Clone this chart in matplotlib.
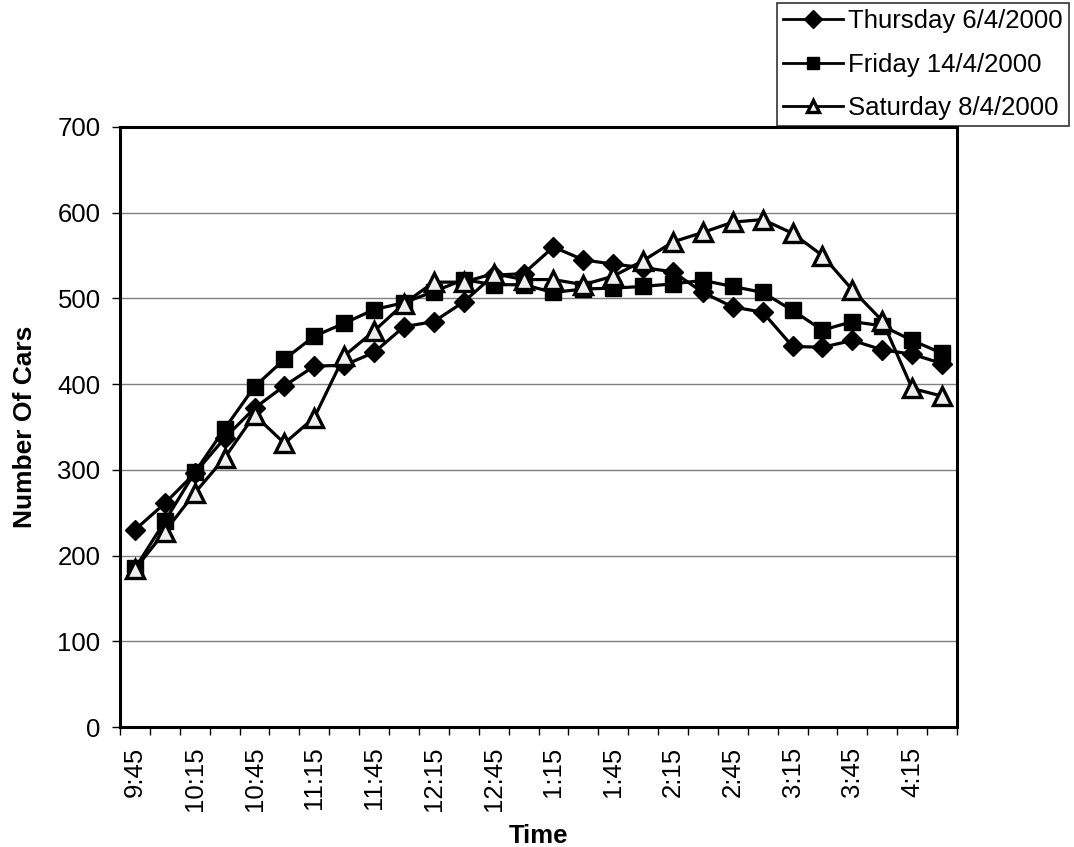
import matplotlib
matplotlib.use("Agg")
import matplotlib.pyplot as plt
import numpy as np

# 15-minute observation slots, 9:45 through 4:30
times = ["9:45", "10:00", "10:15", "10:30", "10:45", "11:00", "11:15", "11:30",
         "11:45", "12:00", "12:15", "12:30", "12:45", "1:00", "1:15", "1:30",
         "1:45", "2:00", "2:15", "2:30", "2:45", "3:00", "3:15", "3:30",
         "3:45", "4:00", "4:15", "4:30"]

thursday = [230, 261, 296, 337, 372, 398, 421, 422, 437, 467, 473, 496, 527, 529,
            560, 545, 540, 536, 531, 507, 490, 484, 444, 443, 451, 440, 435, 424]
friday = [185, 240, 297, 348, 397, 429, 456, 471, 487, 495, 508, 522, 516, 516,
          507, 511, 512, 514, 517, 521, 514, 507, 486, 463, 473, 468, 451, 436]
saturday = [184, 228, 273, 314, 364, 331, 361, 433, 462, 494, 519, 519, 529, 522,
            522, 516, 526, 544, 566, 577, 589, 592, 576, 550, 510, 474, 395, 386]

series_labels = ["Thursday 6/4/2000", "Friday 14/4/2000", "Saturday 8/4/2000"]
y_ticks = [0, 100, 200, 300, 400, 500, 600, 700]

plt.rcParams["font.family"] = ["Liberation Sans", "DejaVu Sans"]

fig = plt.figure(figsize=(10.74, 8.47), dpi=100)
ax = fig.add_axes([120 / 1074, 1 - 727 / 847, 837 / 1074, 600 / 847])

x = np.arange(len(times))
lw = 2.3
ax.plot(x, thursday, color="black", lw=lw, marker="D", markersize=10,
        markerfacecolor="black", markeredgecolor="black", label=series_labels[0], zorder=3)
ax.plot(x, friday, color="black", lw=lw, marker="s", markersize=12,
        markerfacecolor="black", markeredgecolor="black", label=series_labels[1], zorder=3)
ax.plot(x, saturday, color="black", lw=lw, marker="^", markersize=13,
        markerfacecolor="#eeeeee", markeredgecolor="black", markeredgewidth=2.4,
        label=series_labels[2], zorder=4)

ax.set_xlim(-0.5, len(times) - 0.5)
ax.set_ylim(0, 700)
ax.set_yticks(y_ticks)
ax.set_yticklabels([str(v) for v in y_ticks], fontsize=18.5)
ax.yaxis.grid(True, color="#7f7f7f", lw=1.0)
ax.set_axisbelow(True)

# category labels on every other slot, tick marks at category boundaries
ax.set_xticks(x[::2])
ax.set_xticklabels(times[::2], rotation=90, fontsize=18.5)
ax.tick_params(axis="x", which="major", length=0, pad=14)
ax.set_xticks(np.arange(-0.5, len(times), 1.0), minor=True)
ax.tick_params(axis="x", which="minor", length=6, width=1.0, direction="out")
ax.tick_params(axis="y", length=6, width=1.0, direction="out", pad=8)

for s in ax.spines.values():
    s.set_linewidth(2.2)
    s.set_color("black")

ax.set_xlabel("Time", fontsize=18.5, fontweight="bold", labelpad=9)
ax.set_ylabel("Number Of Cars", fontsize=19, fontweight="bold", labelpad=15)

leg = fig.legend(loc="upper left", bbox_to_anchor=(777 / 1074, 1 - 3 / 847),
                 fontsize=18.5, frameon=True, fancybox=False, edgecolor="black",
                 handlelength=2.3, handletextpad=0.2, labelspacing=0.75,
                 borderpad=0.25, borderaxespad=0)
leg.get_frame().set_linewidth(1.2)
for h in leg.legend_handles:
    h.set_markersize(9)
    h.set_linewidth(2)

fig.savefig("out.png", dpi=100)
